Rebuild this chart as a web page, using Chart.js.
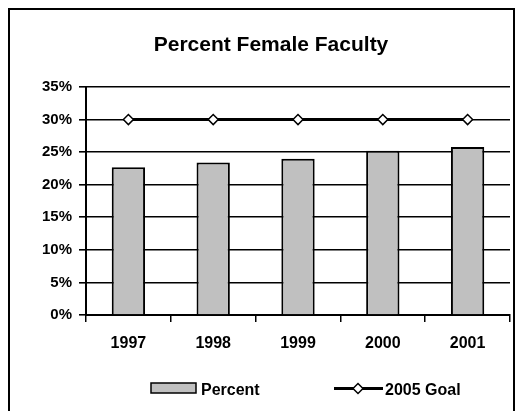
<!DOCTYPE html>
<html>
<head>
<meta charset="utf-8">
<script src="https://cdn.jsdelivr.net/npm/chart.js@4/dist/chart.umd.min.js"></script>
<style>
  html, body { margin: 0; padding: 0; background: #fff; }
  #wrap { width: 522px; height: 411px; position: relative; }
</style>
</head>
<body>
<div id="wrap"><canvas id="c" width="522" height="411"></canvas></div>
<script>
const years = ['1997', '1998', '1999', '2000', '2001'];
const percentValues = [22.7, 23.4, 24.0, 25.2, 25.8];
const goalValues = [30, 30, 30, 30, 30];
const yTickLabels = ['0%', '5%', '10%', '15%', '20%', '25%', '30%', '35%'];
const titleText = 'Percent Female Faculty';
const seriesNames = ['Percent', '2005 Goal'];

const FONT = 'Arial, "Liberation Sans", sans-serif';

const framePlugin = {
  id: 'frame',
  beforeDraw(chart) {
    const ctx = chart.ctx;
    ctx.save();
    ctx.fillStyle = '#fff';
    ctx.fillRect(0, 0, chart.width, chart.height);
    ctx.strokeStyle = '#000';
    ctx.lineWidth = 2;
    ctx.strokeRect(9, 9, 505, 430);
    ctx.restore();
  },
  afterDraw(chart) {
    const ctx = chart.ctx;
    ctx.save();
    ctx.fillStyle = '#000';
    ctx.font = 'bold 21px ' + FONT;
    ctx.textAlign = 'center';
    ctx.textBaseline = 'alphabetic';
    ctx.fillText(titleText, 271, 51);
    const ds = chart.data.datasets;
    const barDs = ds.find(d => d.type === 'bar');
    const lineDs = ds.find(d => d.type === 'line');
    ctx.font = 'bold 16px ' + FONT;
    ctx.textAlign = 'left';
    // bar swatch
    ctx.fillStyle = barDs.backgroundColor;
    ctx.fillRect(151, 383, 45, 10);
    ctx.strokeStyle = '#000';
    ctx.lineWidth = 1.5;
    ctx.strokeRect(151, 383, 45, 10);
    ctx.fillStyle = '#000';
    ctx.fillText(barDs.label, 201, 395);
    // line swatch
    ctx.beginPath();
    ctx.moveTo(334, 388.5);
    ctx.lineTo(383, 388.5);
    ctx.lineWidth = 3;
    ctx.stroke();
    ctx.beginPath();
    ctx.moveTo(353, 388.5); ctx.lineTo(358, 383.5); ctx.lineTo(363, 388.5); ctx.lineTo(358, 393.5); ctx.closePath();
    ctx.fillStyle = '#fff';
    ctx.fill();
    ctx.lineWidth = 1.5;
    ctx.stroke();
    ctx.fillStyle = '#000';
    ctx.fillText(lineDs.label, 385, 395);
    ctx.restore();
  }
};

new Chart(document.getElementById('c'), {
  type: 'bar',
  data: {
    labels: years,
    datasets: [
      {
        type: 'line',
        label: seriesNames[1],
        data: goalValues,
        borderColor: '#000',
        borderWidth: 3,
        pointStyle: 'rectRot',
        pointRadius: 5,
        pointBackgroundColor: '#fff',
        pointBorderColor: '#000',
        pointBorderWidth: 1.5,
        fill: false,
        order: 0
      },
      {
        type: 'bar',
        label: seriesNames[0],
        data: percentValues,
        backgroundColor: '#c0c0c0',
        borderColor: '#000',
        borderWidth: 2,
        categoryPercentage: 1,
        barPercentage: 0.393,
        order: 1
      }
    ]
  },
  options: {
    responsive: false,
    animation: false,
    events: [],
    layout: { padding: { top: 87, right: 12, left: 0, bottom: 56 } },
    plugins: {
      legend: { display: false },
      title: { display: false },
      tooltip: { enabled: false }
    },
    scales: {
      x: {
        offset: true,
        afterFit(scale) { scale.height = 40; },
        grid: {
          offset: true,
          drawOnChartArea: false,
          drawTicks: true,
          tickLength: 7,
          color: '#000',
          lineWidth: 1.5
        },
        border: { display: true, color: '#000', width: 2 },
        ticks: {
          color: '#000',
          padding: 12,
          font: { family: FONT, size: 16, weight: 'bold' },
          maxRotation: 0
        }
      },
      y: {
        min: 0,
        max: 35,
        afterFit(scale) { scale.width = 86; },
        grid: {
          color: '#000',
          lineWidth: 1.6,
          drawTicks: true,
          tickLength: 7
        },
        border: { display: true, color: '#000', width: 2 },
        ticks: {
          stepSize: 5,
          color: '#000',
          padding: 7,
          font: { family: FONT, size: 15, weight: 'bold' },
          callback: (v, i) => yTickLabels[i]
        }
      }
    }
  },
  plugins: [framePlugin]
});
</script>
</body>
</html>
